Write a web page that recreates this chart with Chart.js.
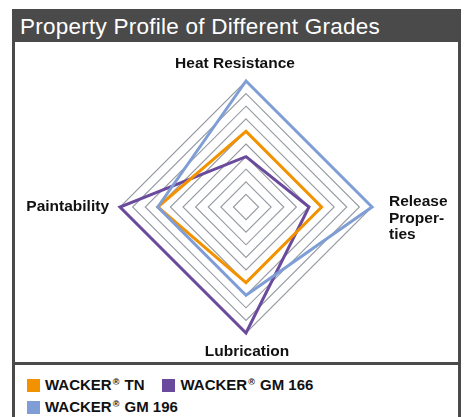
<!DOCTYPE html>
<html>
<head>
<meta charset="utf-8">
<script src="https://cdn.jsdelivr.net/npm/chart.js@4/dist/chart.umd.min.js"></script>
<style>
  html, body { margin:0; padding:0; background:#fff; }
  body { width:464px; height:417px; position:relative; overflow:hidden; font-family:"Liberation Sans", Arial, Helvetica, sans-serif; }
  #titlebar { position:absolute; left:12px; top:9px; width:449px; height:33px; background:#4a4a4a; }
  #titlebar span { position:absolute; left:8px; top:4px; color:#fff; font-size:22.5px; letter-spacing:0.25px; line-height:27px; white-space:nowrap; }
  #chartbox { position:absolute; left:12px; top:42px; width:443px; height:320px; border-left:3px solid #4a4a4a; border-right:3px solid #4a4a4a; border-bottom:3px solid #4a4a4a; }
  #legendbox { position:absolute; left:12px; top:365px; width:443px; height:60px; border-left:3px solid #4a4a4a; border-right:3px solid #4a4a4a; }
  #legend { position:absolute; left:27px; top:376px; width:420px; font-weight:bold; font-size:15px; color:#111; }
  .row { position:absolute; left:0; white-space:nowrap; height:18px; line-height:18px; }
  .item { display:inline-block; position:relative; padding-left:18px; margin-right:18px; }
  .sw { position:absolute; left:0; top:3px; width:13px; height:13px; }
  sup { font-size:9px; vertical-align:top; position:relative; top:-3px; margin-left:1px; margin-right:1px; }
  #c { position:absolute; left:0; top:0; }
</style>
</head>
<body>
<div id="titlebar"><span>Property Profile of Different Grades</span></div>
<div id="chartbox"></div>
<div id="legendbox"></div>
<div id="legend"></div>
<canvas id="c" width="464" height="417"></canvas>
<script>
const categories = ['Heat Resistance', ['Release', 'Proper-', 'ties'], 'Lubrication', 'Paintability'];
const seriesNames = ['WACKER® TN', 'WACKER® GM 166', 'WACKER® GM 196'];
const tnValues = [6, 6, 6, 7];
const gm166Values = [4, 5, 10, 10];
const gm196Values = [10, 10, 7, 7];
const seriesColors = ['#f39200', '#6a4a9c', '#7e9ed5'];
const scaleMax = 10;
const scaleStep = 1;

// HTML legend (for the superscript ®)
(function () {
  const lg = document.getElementById('legend');
  const rows = [[0, 1], [2]];
  rows.forEach((r, ri) => {
    const row = document.createElement('div');
    row.className = 'row';
    row.style.top = (ri * 22) + 'px';
    r.forEach(i => {
      const it = document.createElement('span');
      it.className = 'item';
      const parts = seriesNames[i].split('®');
      it.innerHTML = '<span class="sw" style="background:' + seriesColors[i] + '"></span>' +
        parts[0] + '<sup>®</sup>' + parts[1];
      row.appendChild(it);
    });
    lg.appendChild(row);
  });
})();

const labelPlugin = {
  id: 'axisLabels',
  afterDraw(chart) {
    const s = chart.scales.r;
    const ctx = chart.ctx;
    ctx.save();
    ctx.fillStyle = '#111';
    ctx.font = 'bold 15.5px "Liberation Sans", Arial, sans-serif';
    ctx.textBaseline = 'alphabetic';
    const R = s.drawingArea;
    let p = s.getPointPosition(0, R);
    ctx.textAlign = 'center';
    ctx.fillText(categories[0], p.x - 11, p.y - 13);
    p = s.getPointPosition(1, R);
    ctx.textAlign = 'left';
    categories[1].forEach((t, k) => ctx.fillText(t, p.x + 17, p.y - 1 + k * 16.6));
    p = s.getPointPosition(2, R);
    ctx.textAlign = 'center';
    ctx.fillText(categories[2], p.x + 1, p.y + 22.5);
    p = s.getPointPosition(3, R);
    ctx.textAlign = 'right';
    ctx.fillText(categories[3], p.x - 11, p.y + 4);
    ctx.restore();
  }
};

const values = [tnValues, gm166Values, gm196Values];
new Chart(document.getElementById('c'), {
  type: 'radar',
  data: {
    labels: categories,
    datasets: [2, 0, 1].map(i => ({
      label: seriesNames[i],
      data: values[i],
      borderColor: seriesColors[i],
      backgroundColor: 'rgba(0,0,0,0)',
      borderWidth: 3,
      fill: false,
      pointRadius: 0,
      pointHoverRadius: 0,
      borderJoinStyle: 'miter',
      tension: 0
    }))
  },
  options: {
    responsive: false,
    animation: false,
    layout: { padding: { left: 120, top: 81, right: 92, bottom: 84 } },
    plugins: { legend: { display: false }, title: { display: false }, tooltip: { enabled: false } },
    scales: {
      r: {
        min: 0,
        max: scaleMax,
        ticks: { display: false, stepSize: scaleStep },
        angleLines: { display: false },
        grid: { circular: false, color: '#959aa1', lineWidth: 1.1 },
        pointLabels: { display: false }
      }
    }
  },
  plugins: [labelPlugin]
});
</script>
</body>
</html>
